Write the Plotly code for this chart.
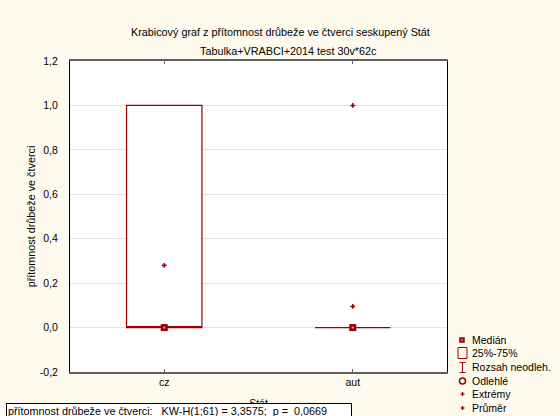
import plotly.graph_objects as go

# ---- data ----
categories = ["cz", "aut"]
q1 = [0.0, 0.0]
median = [0.0, 0.0]
q3 = [1.0, 0.0]
lower_nonout = [0.0, 0.0]
upper_nonout = [1.0, 0.0]
means = [0.28, 0.095]
extreme_x = ["aut"]
extreme_y = [1.0]
y_ticks = [-0.2, 0.0, 0.2, 0.4, 0.6, 0.8, 1.0, 1.2]
y_ticktext = ["-0,2", "0,0", "0,2", "0,4", "0,6", "0,8", "1,0", "1,2"]

title1 = "Krabicový graf z přítomnost drůbeže ve čtverci seskupený Stát"
title2 = "Tabulka+VRABCI+2014 test 30v*62c"
y_title = "přítomnost drůbeže ve čtverci"
x_title = "Stát"
NB = "\u00a0"
stat_text = ("přítomnost drůbeže ve čtverci:" + NB * 3 + "KW-H(1;61)" + NB + "=" + NB + "3,3575;"
             + NB * 2 + "p" + NB + "=" + NB * 2 + "0,0669")
legend_labels = ["Medián", "25%-75%", "Rozsah neodleh.", "Odlehlé", "Extrémy", "Průměr"]

DR = "#990000"
FONT = "Arial, Liberation Sans, sans-serif"
BG = "#FFFAEE"

W, H = 560, 416
L, R, T, B = 70, 113, 61, 44
PW, PH = W - L - R, H - T - B

def px(x):
    return (x - L) / PW

def py(y):
    return (H - B - y) / PH

fig = go.Figure()

fig.add_trace(go.Box(
    x=categories, q1=q1, median=median, q3=q3,
    lowerfence=lower_nonout, upperfence=upper_nonout,
    width=0.4, whiskerwidth=0.5, boxpoints=False,
    fillcolor="white", line=dict(color=DR, width=1.2),
    showlegend=False, hoverinfo="skip",
))

# medians
fig.add_trace(go.Scatter(x=categories, y=median, mode="markers",
                         marker=dict(symbol="square", size=7, color=DR),
                         showlegend=False, cliponaxis=False))
fig.add_trace(go.Scatter(x=categories, y=median, mode="markers",
                         marker=dict(symbol="square", size=2, color="#E8A0A0"),
                         showlegend=False, cliponaxis=False))
# means
fig.add_trace(go.Scatter(x=categories, y=means, mode="markers",
                         marker=dict(symbol="cross", size=4, color=DR, line=dict(width=0)),
                         showlegend=False))
# extremes
fig.add_trace(go.Scatter(x=extreme_x, y=extreme_y, mode="markers",
                         marker=dict(symbol="cross", size=4, color=DR, line=dict(width=0)),
                         showlegend=False))

annotations = [
    dict(text=title1, x=px(280), y=py(24), xref="paper", yref="paper",
         showarrow=False, font=dict(size=10.8, color="black", family=FONT)),
    dict(text=title2, x=px(288), y=py(43), xref="paper", yref="paper",
         showarrow=False, font=dict(size=10.8, color="black", family=FONT)),
    dict(text=stat_text, x=px(6), y=py(403), xref="paper", yref="paper",
         xanchor="left", yanchor="top", showarrow=False, align="left",
         width=342,
         bgcolor="white", bordercolor="black", borderwidth=1, borderpad=1,
         font=dict(size=10.8, color="black", family=FONT)),
]

legend_y = [340, 353, 367, 381, 394, 408]
for lab, yy in zip(legend_labels, legend_y):
    annotations.append(dict(text=lab, x=px(470), y=py(yy), xref="paper", yref="paper",
                            xanchor="left", yanchor="middle", showarrow=False,
                            font=dict(size=10.5, color="black", family=FONT)))

shapes = []
def rect(x0, y0, x1, y1, fill=None, line=DR, lw=1):
    shapes.append(dict(type="rect", xref="paper", yref="paper",
                       x0=px(x0), x1=px(x1), y0=py(y0), y1=py(y1),
                       fillcolor=fill if fill else "rgba(0,0,0,0)",
                       line=dict(color=line, width=lw)))
def line(x0, y0, x1, y1, lw=1):
    shapes.append(dict(type="line", xref="paper", yref="paper",
                       x0=px(x0), x1=px(x1), y0=py(y0), y1=py(y1),
                       line=dict(color=DR, width=lw)))

# legend symbols
rect(459.5, 337.5, 464.5, 342.5, fill=DR, lw=0.5)
rect(461.2, 339.2, 462.8, 340.8, fill="#E8A0A0", line="#E8A0A0", lw=0.1)
rect(458, 347.5, 467, 358.5, lw=1)
line(462.5, 362.5, 462.5, 372.5)
line(459.5, 362.5, 465.5, 362.5)
line(459.5, 372.5, 465.5, 372.5)
shapes.append(dict(type="circle", xref="paper", yref="paper",
                   x0=px(459.5), x1=px(465.5), y0=py(378), y1=py(384),
                   fillcolor="white", line=dict(color=DR, width=1.5)))
for yy in (394, 408):
    line(460.5, yy, 464.5, yy, lw=1.3)
    line(462.5, yy - 2, 462.5, yy + 2, lw=1.3)

fig.update_layout(
    width=W, height=H,
    margin=dict(l=L, r=R, t=T, b=B),
    paper_bgcolor=BG, plot_bgcolor="white",
    separators=", ",
    font=dict(family=FONT, size=10, color="black"),
    showlegend=False,
    annotations=annotations,
    shapes=shapes,
    xaxis=dict(
        type="category", categoryorder="array", categoryarray=categories,
        range=[-0.5, 1.5], showgrid=False, zeroline=False, automargin=False,
        showline=True, linecolor="#606060", linewidth=1.5, mirror="allticks",
        ticks="inside", ticklen=3, tickcolor="#606060",
        title=dict(text=x_title, standoff=12, font=dict(size=10.5)),
        tickfont=dict(size=10.5),
    ),
    yaxis=dict(
        range=[-0.2, 1.2], tickvals=y_ticks, ticktext=y_ticktext,
        showgrid=True, gridcolor="#E2E2E2", gridwidth=1,
        zeroline=False, automargin=False,
        showline=True, linecolor="black", linewidth=1, mirror=True,
        ticks="", ticklabelstandoff=9,
        title=dict(text=y_title, standoff=2, font=dict(size=10.8)),
        tickfont=dict(size=10.5),
    ),
)

fig.write_html("out.html")
